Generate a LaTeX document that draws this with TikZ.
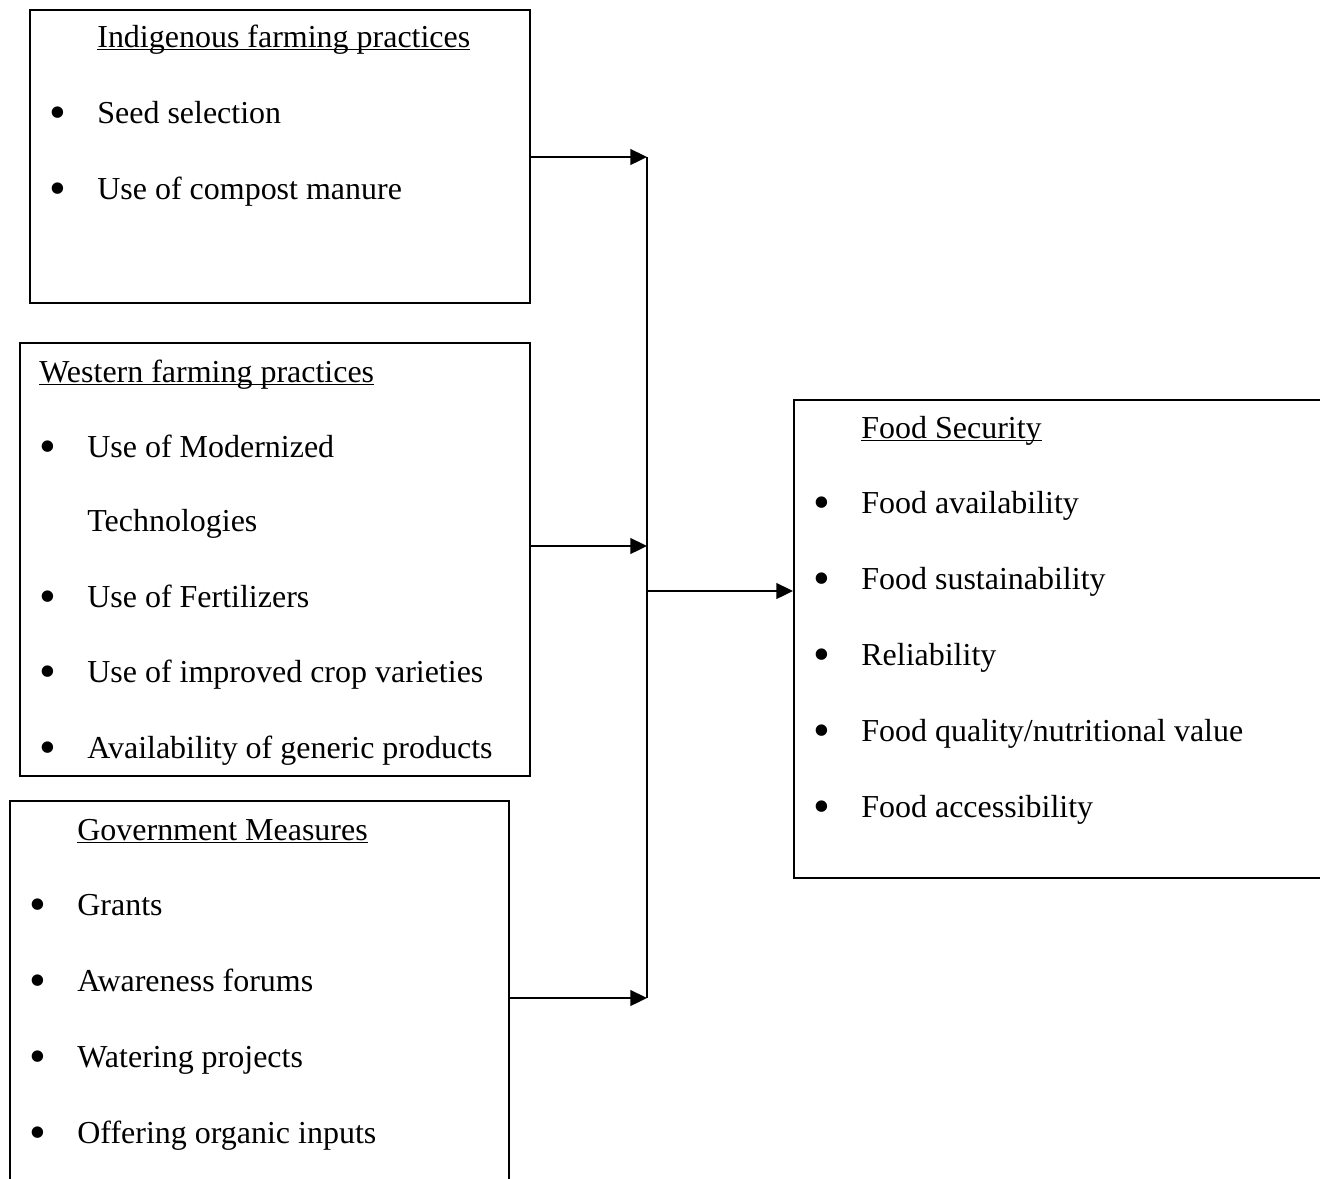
\documentclass[tikz,border=0pt]{standalone}
\usepackage{fontspec}
\usepackage{graphicx}
\setmainfont{Liberation Serif}
\usetikzlibrary{arrows.meta}

\newcommand{\ulhead}[1]{\setbox0\hbox{#1}\rlap{\rule[-1.9pt]{\wd0}{0.7pt}}\box0}
\newcommand{\bul}{\llap{\raisebox{-3.3pt}{\scalebox{1.5}{\textbullet}}\hspace{17.9pt}}}

\begin{document}
\begin{tikzpicture}[x=0.02cm, y=-0.02cm,
    box/.style={draw, line width=1.1pt, rectangle, anchor=north west, inner sep=0pt},
    txt/.style={anchor=base west, inner sep=0pt, font=\fontsize{18.2}{22}\selectfont},
    arr/.style={line width=1.1pt, -{Triangle[length=9.5pt, width=9pt]}}]

    \useasboundingbox (0,0) rectangle (1320,1178);
    \clip (0,0) rectangle (1320,1178);

    \node[box, minimum width=10cm, minimum height=5.86cm] (indig) at (29,9) {};
    \node[box, minimum width=10.2cm, minimum height=8.66cm] (west) at (19,342) {};
    \node[box, minimum width=9.98cm, minimum height=8cm] (gov) at (9,800) {};
    \node[box, minimum width=10.8cm, minimum height=9.56cm] (food) at (793,399) {};

    \node[txt] (indigT) at (97,47) {\ulhead{Indigenous farming practices}};
    \node[txt] (indig1) at (97,123) {\bul Seed selection};
    \node[txt] (indig2) at (97,199) {\bul Use of compost manure};

    \node[txt] (westT) at (39,382) {\ulhead{Western farming practices}};
    \node[txt] (west1) at (87,457) {\bul Use of Modernized};
    \node[txt] (west1b) at (87,531) {Technologies};
    \node[txt] (west2) at (87,607) {\bul Use of Fertilizers};
    \node[txt] (west3) at (87,682) {\bul Use of improved crop varieties};
    \node[txt] (west4) at (87,758) {\bul Availability of generic products};

    \node[txt] (govT) at (77,840) {\ulhead{Government Measures}};
    \node[txt] (gov1) at (77,915) {\bul Grants};
    \node[txt] (gov2) at (77,991) {\bul Awareness forums};
    \node[txt] (gov3) at (77,1067) {\bul Watering projects};
    \node[txt] (gov4) at (77,1143) {\bul Offering organic inputs};

    \node[txt] (foodT) at (861,438) {\ulhead{Food Security}};
    \node[txt] (food1) at (861,513) {\bul Food availability};
    \node[txt] (food2) at (861,589) {\bul Food sustainability};
    \node[txt] (food3) at (861,665) {\bul Reliability};
    \node[txt] (food4) at (861,741) {\bul Food quality/nutritional value};
    \node[txt] (food5) at (861,817) {\bul Food accessibility};

    \coordinate (j1) at (647,157);
    \coordinate (j2) at (647,546);
    \coordinate (j3) at (647,998);
    \coordinate (jout) at (647,591);

    \draw[arr] (indig.east |- j1) -- (j1);
    \draw[arr] (west.east |- j2) -- (j2);
    \draw[arr] (gov.east |- j3) -- (j3);
    \draw[line width=1.1pt] (j1) -- (j3);
    \draw[arr] (jout) -- (food.west |- jout);

\end{tikzpicture}
\end{document}
